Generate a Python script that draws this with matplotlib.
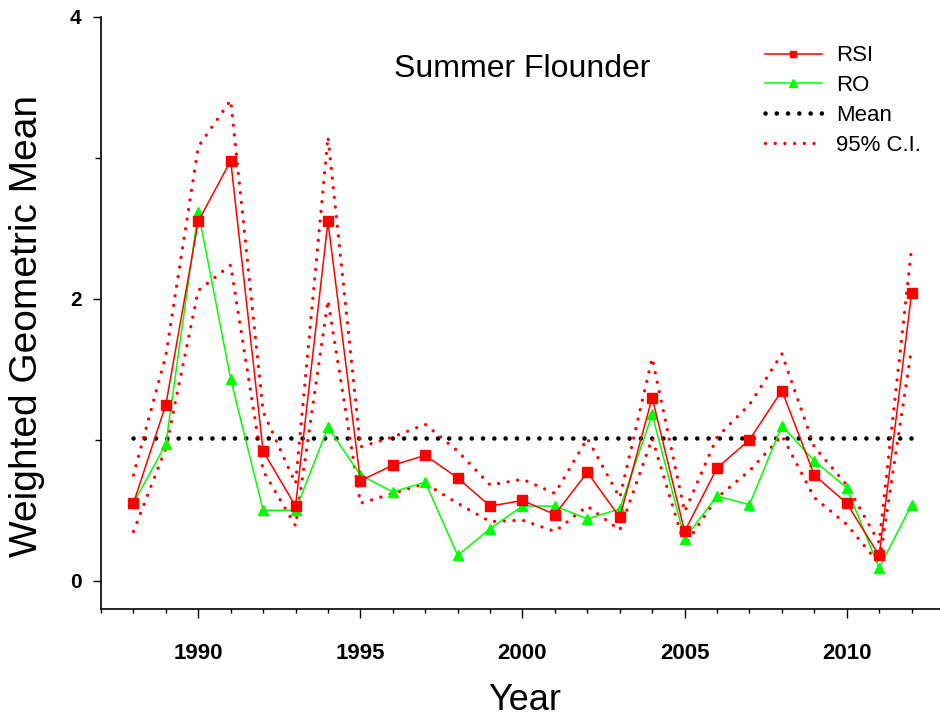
import matplotlib
matplotlib.use("Agg")
import matplotlib.pyplot as plt
from matplotlib.ticker import MultipleLocator

plt.rcParams['font.family'] = ['Liberation Sans', 'DejaVu Sans']

# data
years = list(range(1988, 2013))
rsi = [0.55, 1.25, 2.55, 2.98, 0.92, 0.53, 2.55, 0.71, 0.82, 0.89, 0.73, 0.53, 0.57,
       0.47, 0.77, 0.45, 1.30, 0.35, 0.80, 1.00, 1.35, 0.75, 0.55, 0.18, 2.04]
ro = [0.55, 0.97, 2.62, 1.43, 0.50, 0.50, 1.09, 0.75, 0.63, 0.70, 0.18, 0.37, 0.53,
      0.53, 0.44, 0.51, 1.18, 0.30, 0.60, 0.54, 1.10, 0.85, 0.66, 0.09, 0.54]
ci_upper = [0.75, 1.60, 3.08, 3.41, 1.20, 0.69, 3.15, 0.95, 1.02, 1.11, 0.92, 0.68, 0.72,
            0.62, 1.01, 0.59, 1.58, 0.49, 1.02, 1.25, 1.61, 0.95, 0.68, 0.27, 2.36]
ci_lower = [0.35, 0.94, 2.06, 2.24, 0.78, 0.39, 1.99, 0.55, 0.62, 0.69, 0.55, 0.42, 0.43,
            0.35, 0.53, 0.36, 1.01, 0.25, 0.59, 0.78, 1.03, 0.59, 0.40, 0.12, 1.65]
mean_val = 1.01

fig = plt.figure(figsize=(9.4, 7.19), dpi=100)
ax = fig.add_axes([101/940, 1 - 609/719, 843/940, 592/719])

# 평균선과 신뢰구간
ax.plot([years[0], years[-1]], [mean_val, mean_val], color='black', lw=3.3,
        linestyle=(0, (0.01, 2.45)), dash_capstyle='round', label='Mean', zorder=2)
ax.plot(years, ci_upper, color='red', lw=2.4, linestyle=(0, (0.01, 2.9)),
        dash_capstyle='round', label='95% C.I.', zorder=3)
ax.plot(years, ci_lower, color='red', lw=2.4, linestyle=(0, (0.01, 2.9)),
        dash_capstyle='round', zorder=3)

ax.plot(years, rsi, color='red', lw=1.1, marker='s', markersize=6.5, label='RSI', zorder=5)
ax.plot(years, ro, color='#00ff00', lw=1.1, marker='^', markersize=7.5, label='RO', zorder=4)

ax.set_xlim(1987, 2013)
ax.set_ylim(-0.2, 4)
ax.xaxis.set_major_locator(MultipleLocator(5))
ax.xaxis.set_minor_locator(MultipleLocator(1))
ax.yaxis.set_major_locator(MultipleLocator(2))
ax.yaxis.set_minor_locator(MultipleLocator(1))

ax.spines['top'].set_visible(False)
ax.spines['right'].set_visible(False)
ax.spines['left'].set_linewidth(1.2)
ax.spines['bottom'].set_linewidth(1.2)

ax.tick_params(axis='x', which='major', direction='out', length=6.5, width=1, pad=18)
ax.tick_params(axis='x', which='minor', direction='out', length=3, width=1)
ax.tick_params(axis='y', which='major', direction='out', length=6, width=1, pad=8)
ax.tick_params(axis='y', which='minor', direction='out', length=4, width=1)
for lab in ax.get_xticklabels():
    lab.set_family(['Liberation Sans Narrow', 'Liberation Sans', 'DejaVu Sans'])
    lab.set_fontweight('bold')
    lab.set_fontsize(16)
for lab in ax.get_yticklabels():
    lab.set_fontweight('bold')
    lab.set_fontsize(15)

ax.set_xlabel('Year', fontsize=26)
ax.set_ylabel('Weighted Geometric Mean', fontsize=28)
ax.xaxis.set_label_coords(0.503, -0.125)
ax.yaxis.set_label_coords(-0.066, 0.478)

ax.text(2000, 3.63, 'Summer Flounder', fontsize=23, ha='center', va='center')

handles, labels = ax.get_legend_handles_labels()
order = [2, 3, 0, 1]
ax.legend([handles[i] for i in order], [labels[i] for i in order],
          loc='upper left', bbox_to_anchor=(0.774, 0.971), frameon=False,
          fontsize=16, handlelength=2.6, handletextpad=0.6, borderpad=0,
          labelspacing=0.4, markerscale=0.75)

fig.savefig('out.png', dpi=100)
